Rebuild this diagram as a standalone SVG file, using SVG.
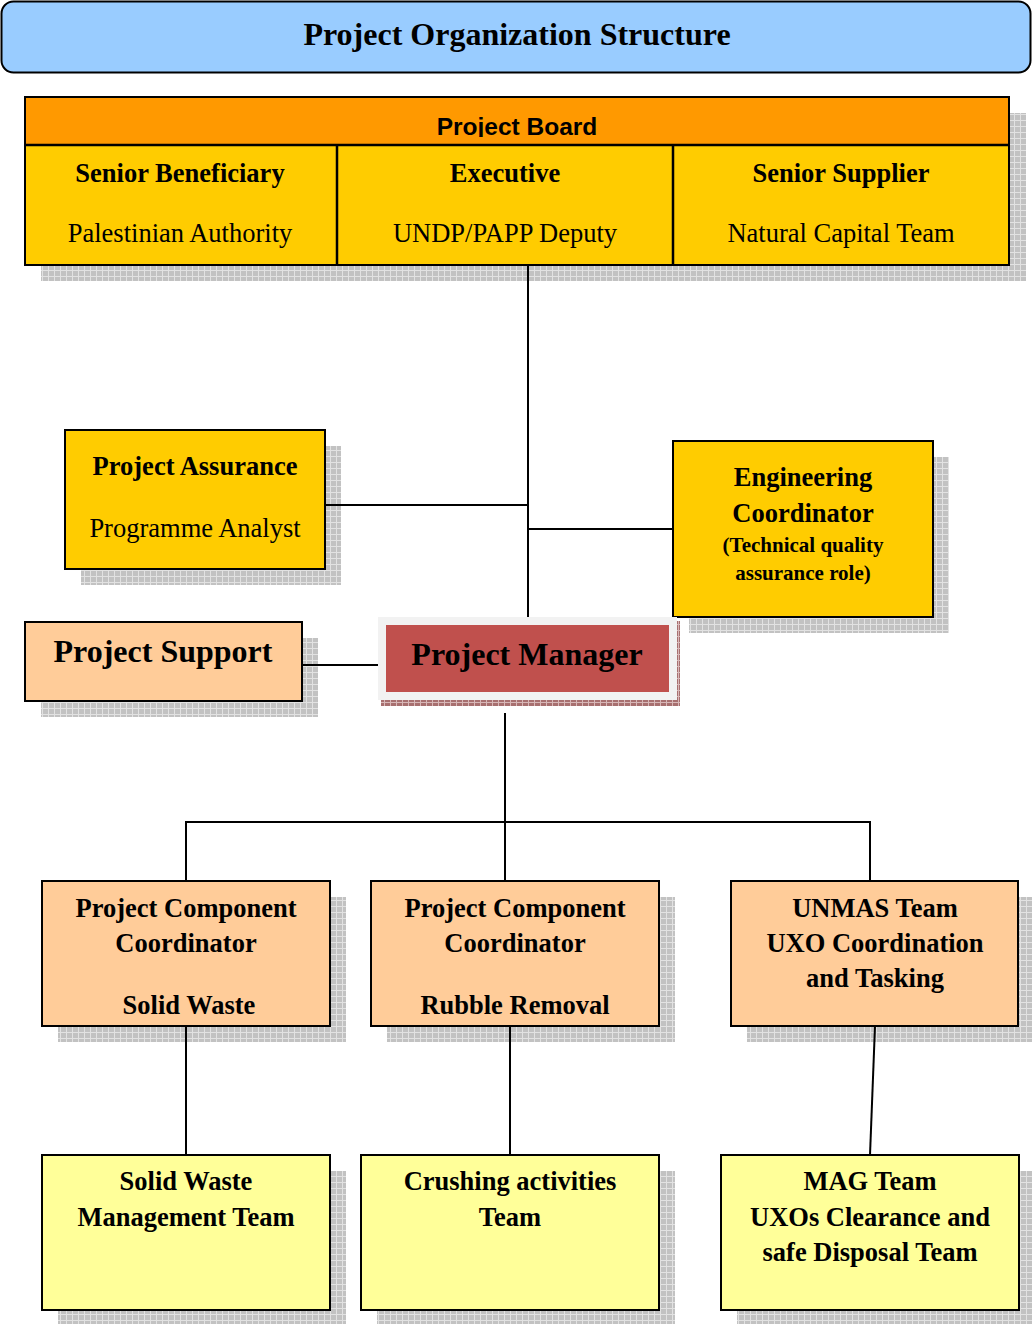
<svg xmlns="http://www.w3.org/2000/svg" width="1032" height="1324" viewBox="0 0 1032 1324">
<defs>
<pattern id="sh" width="6" height="6" patternUnits="userSpaceOnUse"><rect width="6" height="6" fill="#c2c2c2"/><path d="M0 0.5H6M0.5 0V6" stroke="#e2e2e2" stroke-width="1"/></pattern>
<pattern id="shr" width="6" height="6" patternUnits="userSpaceOnUse"><rect width="6" height="6" fill="#a87070"/><path d="M0 0.5H6M0.5 0V6" stroke="#d8b8b8" stroke-width="1"/></pattern>
<clipPath id="pbclip"><rect x="25" y="97" width="984" height="40"/></clipPath>
</defs>
<style>
.box{stroke:#000;stroke-width:2}
.shadow{fill:url(#sh)}
.t{font-family:"Liberation Serif","Times New Roman",serif;text-anchor:middle;fill:#000}
.b{font-weight:bold}
.s26{font-size:26.5px}
.s32{font-size:32px}
.s21{font-size:21px}
.conn{stroke:#000;stroke-width:2;fill:none}
</style>
<rect width="1032" height="1324" fill="#fff"/>

<g id="title">
<rect x="1.5" y="1.5" width="1029" height="71" rx="12" fill="#99ccff" stroke="#000" stroke-width="2"/>
<text class="t b s32" x="517" y="45">Project Organization Structure</text>
</g>

<g id="project-board">
<rect class="shadow" x="41" y="113" width="985" height="168"/>
<rect x="25" y="97" width="984" height="48" fill="#ff9900"/>
<text clip-path="url(#pbclip)" x="517" y="135" font-family="'Liberation Sans',Arial,sans-serif" font-weight="bold" font-size="24.5" text-anchor="middle">Project Board</text>
<rect x="25" y="145" width="984" height="120" fill="#ffcc00"/>
<rect x="25" y="97" width="984" height="168" fill="none" class="box"/>
<path d="M25 145H1009M337 145V265M673 145V265" stroke="#000" stroke-width="2.5" fill="none"/>
<text class="t b s26" x="180" y="182">Senior Beneficiary</text>
<text class="t s26" x="180" y="242">Palestinian Authority</text>
<text class="t b s26" x="505" y="182">Executive</text>
<text class="t s26" x="505" y="242">UNDP/PAPP Deputy</text>
<text class="t b s26" x="841" y="182">Senior Supplier</text>
<text class="t s26" x="841" y="242">Natural Capital Team</text>
</g>

<g id="project-assurance">
<rect class="shadow" x="81" y="446" width="260" height="139"/>
<rect class="box" x="65" y="430" width="260" height="139" fill="#ffcc00"/>
<text class="t b s26" x="195" y="475">Project Assurance</text>
<text class="t s26" x="195" y="537">Programme Analyst</text>
</g>

<g id="engineering-coordinator">
<rect class="shadow" x="689" y="457" width="260" height="176"/>
<rect class="box" x="673" y="441" width="260" height="176" fill="#ffcc00"/>
<text class="t b s26" x="803" y="486">Engineering</text>
<text class="t b s26" x="803" y="522">Coordinator</text>
<text class="t b s21" x="803" y="552">(Technical quality</text>
<text class="t b s21" x="803" y="580">assurance role)</text>
</g>

<g id="project-support">
<rect class="shadow" x="41" y="638" width="277" height="79"/>
<rect class="box" x="25" y="622" width="277" height="79" fill="#ffcc99"/>
<text class="t b s32" x="163" y="662">Project Support</text>
</g>

<g id="project-manager">
<rect x="381" y="621" width="299" height="85" fill="url(#shr)"/>
<rect x="378" y="617" width="299" height="83" fill="#f2f2f2"/>
<rect x="386" y="625" width="283" height="67" fill="#c0504d"/>
<text class="t b s32" x="527" y="665">Project Manager</text>
</g>

<g id="coordinator-solid-waste">
<rect class="shadow" x="58" y="897" width="288" height="145"/>
<rect class="box" x="42" y="881" width="288" height="145" fill="#ffcc99"/>
<text class="t b s26" x="186" y="917">Project Component</text>
<text class="t b s26" x="186" y="952">Coordinator</text>
<text class="t b s26" x="189" y="1014">Solid Waste</text>
</g>

<g id="coordinator-rubble-removal">
<rect class="shadow" x="387" y="897" width="288" height="145"/>
<rect class="box" x="371" y="881" width="288" height="145" fill="#ffcc99"/>
<text class="t b s26" x="515" y="917">Project Component</text>
<text class="t b s26" x="515" y="952">Coordinator</text>
<text class="t b s26" x="515" y="1014">Rubble Removal</text>
</g>

<g id="unmas-team">
<rect class="shadow" x="747" y="897" width="287" height="145"/>
<rect class="box" x="731" y="881" width="287" height="145" fill="#ffcc99"/>
<text class="t b s26" x="875" y="917">UNMAS Team</text>
<text class="t b s26" x="875" y="952">UXO Coordination</text>
<text class="t b s26" x="875" y="987">and Tasking</text>
</g>

<g id="solid-waste-team">
<rect class="shadow" x="58" y="1171" width="288" height="155"/>
<rect class="box" x="42" y="1155" width="288" height="155" fill="#ffff99"/>
<text class="t b s26" x="186" y="1190">Solid Waste</text>
<text class="t b s26" x="186" y="1226">Management Team</text>
</g>

<g id="crushing-team">
<rect class="shadow" x="377" y="1171" width="298" height="155"/>
<rect class="box" x="361" y="1155" width="298" height="155" fill="#ffff99"/>
<text class="t b s26" x="510" y="1190">Crushing activities</text>
<text class="t b s26" x="510" y="1226">Team</text>
</g>

<g id="mag-team">
<rect class="shadow" x="737" y="1171" width="298" height="155"/>
<rect class="box" x="721" y="1155" width="298" height="155" fill="#ffff99"/>
<text class="t b s26" x="870" y="1190">MAG Team</text>
<text class="t b s26" x="870" y="1226">UXOs Clearance and</text>
<text class="t b s26" x="870" y="1261">safe Disposal Team</text>
</g>

<g id="connectors">
<path class="conn" d="M528 265V617"/>
<path class="conn" d="M325 505H528"/>
<path class="conn" d="M528 529H673"/>
<path class="conn" d="M303 665H378"/>
<path class="conn" d="M505 713V822"/>
<path class="conn" d="M186 881V822H870V881"/>
<path class="conn" d="M505 822V881"/>
<path class="conn" d="M186 1026V1155"/>
<path class="conn" d="M510 1026V1155"/>
<path class="conn" d="M875 1026L870 1155"/>
</g>
</svg>
